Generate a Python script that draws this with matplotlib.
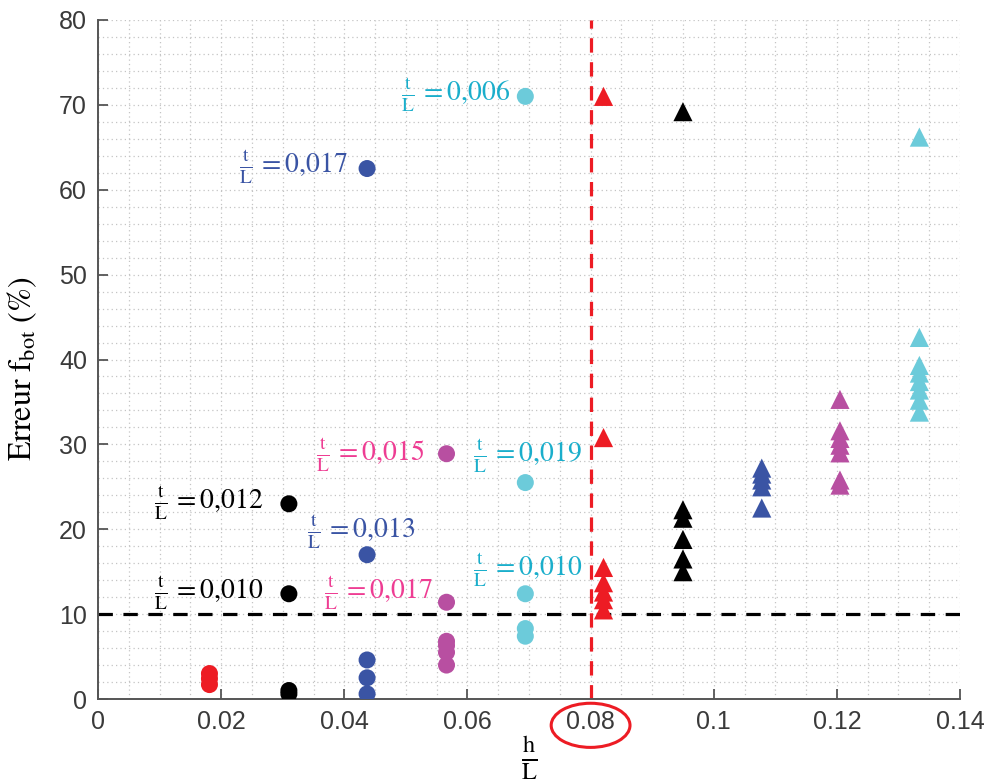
import matplotlib
matplotlib.use("Agg")
import matplotlib.pyplot as plt
from matplotlib.ticker import MultipleLocator
from matplotlib.patches import Ellipse

# ---- data ----
hL = [0.0181, 0.0310, 0.0437, 0.0566, 0.0694, 0.0821, 0.0950, 0.1078, 0.1205, 0.1334]

circ_red = [1.7, 2.4, 3.0]
circ_black = [0.6, 1.0, 12.4, 23.0]
circ_blue = [0.6, 2.5, 4.6, 17.0, 62.5]
circ_magenta = [4.0, 5.5, 6.3, 6.8, 11.4, 28.9]
circ_cyan = [7.4, 8.3, 12.4, 25.5, 71.0]

tri_red = [10.5, 11.7, 12.6, 13.7, 15.5, 30.8, 71.0]
tri_black = [15.0, 16.5, 18.8, 21.3, 22.3, 69.2]
tri_blue = [22.5, 25.0, 25.8, 26.5, 27.2]
tri_magenta = [25.2, 25.8, 29.0, 29.9, 30.7, 31.6, 35.3]
tri_cyan = [33.8, 35.2, 36.4, 37.4, 38.4, 39.3, 42.6, 66.2]

threshold_err = 10
threshold_hL = 0.08

ann_values = ["0{,}006", "0{,}017", "0{,}015", "0{,}019", "0{,}012", "0{,}013", "0{,}010", "0{,}017", "0{,}010"]
ann_x = [0.0669, 0.0406, 0.0531, 0.0786, 0.0268, 0.0515, 0.0268, 0.0544, 0.0786]
ann_y = [71.2, 62.7, 28.7, 28.6, 23.1, 19.7, 12.5, 12.5, 15.2]
ann_col = ["cyan", "blue", "pink", "cyan", "black", "blue", "black", "pink", "cyan"]

xticks = [0, 0.02, 0.04, 0.06, 0.08, 0.1, 0.12, 0.14]
xticklabels = ["0", "0.02", "0.04", "0.06", "0.08", "0.1", "0.12", "0.14"]
yticks = [0, 10, 20, 30, 40, 50, 60, 70, 80]

# ---- colours ----
C = {"red": "#ED1C24", "black": "#000000", "blue": "#3A54A4",
     "magenta": "#B84FA1", "cyan": "#6CCBDA"}
TXT = {"cyan": "#1AAECB", "blue": "#3A54A4", "pink": "#EE3D93", "black": "#000000"}

plt.rcParams["mathtext.fontset"] = "stix"

fig = plt.figure(figsize=(9.89, 7.84), dpi=100)
ax = fig.add_axes([0.0991, 0.1084, 0.8716, 0.8661])

circ = [circ_red, circ_black, circ_blue, circ_magenta, circ_cyan]
tri = [tri_red, tri_black, tri_blue, tri_magenta, tri_cyan]
names = ["red", "black", "blue", "magenta", "cyan"]
for i, (vals, nm) in enumerate(zip(circ, names)):
    ax.scatter([hL[i]] * len(vals), vals, s=150, marker="o", color=C[nm],
               edgecolors="none", zorder=3)
for i, (vals, nm) in enumerate(zip(tri, names)):
    ax.scatter([hL[i + 5]] * len(vals), vals, s=190, marker="^", color=C[nm],
               edgecolors="none", zorder=3)

ax.axhline(threshold_err, color="black", lw=2.3, dashes=(4.5, 3.3), zorder=2)
ax.axvline(threshold_hL, color=C["red"], lw=2.3, dashes=(4.5, 3.0), zorder=2)

for v, x, y, c in zip(ann_values, ann_x, ann_y, ann_col):
    ax.text(x, y, r"$\frac{\mathrm{t}}{\mathrm{L}}\,=%s$" % v, color=TXT[c],
            fontsize=20, ha="right", va="center", zorder=4)

ax.set_xlim(0, 0.14)
ax.set_ylim(0, 80)
ax.set_xticks(xticks)
ax.set_xticklabels(xticklabels)
ax.set_yticks(yticks)
ax.xaxis.set_minor_locator(MultipleLocator(0.005))
ax.yaxis.set_minor_locator(MultipleLocator(2))
ax.grid(True, which="both", color="#c4c4c4", linestyle=(0, (1, 2.5)), lw=0.9)
ax.set_axisbelow(True)

for s in ["top", "right"]:
    ax.spines[s].set_visible(False)
for s in ["left", "bottom"]:
    ax.spines[s].set_color("#555555")
    ax.spines[s].set_linewidth(1.4)

ax.tick_params(axis="both", which="major", direction="in", length=7, width=1.3,
               color="#555555", labelsize=18, labelcolor="#3a3a3a", pad=8)
ax.tick_params(axis="both", which="minor", length=0)
for lab in ax.get_xticklabels() + ax.get_yticklabels():
    lab.set_family("Liberation Sans")

ax.set_ylabel(r"Erreur $\mathrm{f}_{\mathrm{bot}}$ (%)", fontsize=23,
              family="STIXGeneral", labelpad=8)
ax.yaxis.set_label_coords(-0.069, 0.487)
ax.set_xlabel(r"$\frac{\mathrm{h}}{\mathrm{L}}$", fontsize=25, labelpad=0)

ell = Ellipse((0.08, -3.1), width=0.0128, height=5.2, transform=ax.transData,
              fill=False, edgecolor=C["red"], lw=2.2, clip_on=False)
ax.add_patch(ell)

fig.savefig("out.png", dpi=100)
